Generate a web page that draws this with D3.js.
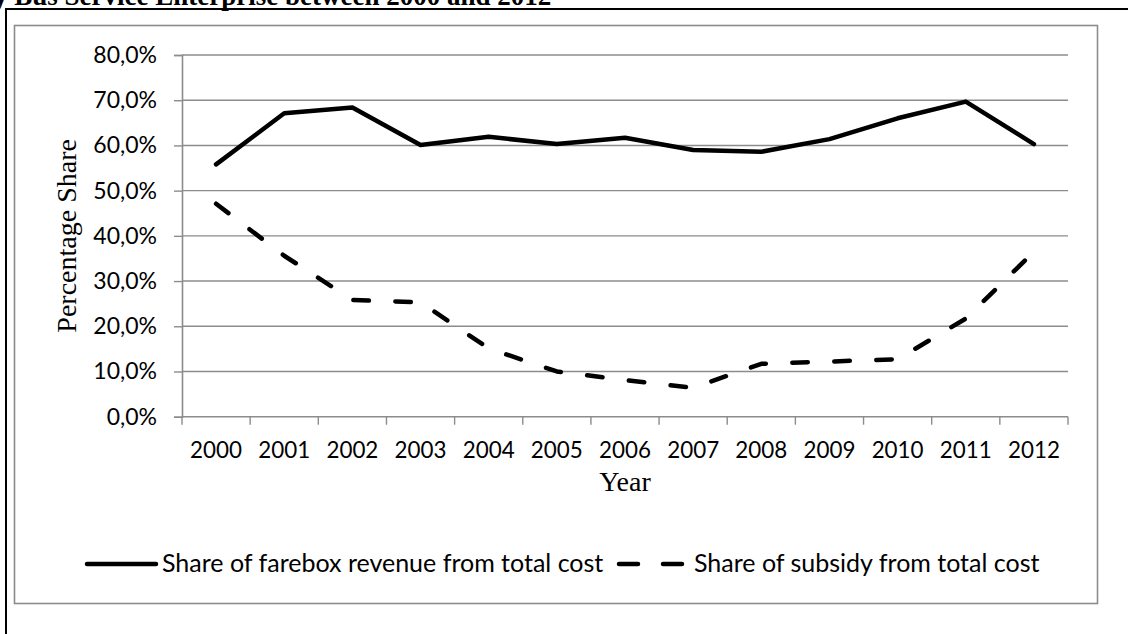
<!DOCTYPE html>
<html>
<head>
<meta charset="utf-8">
<script src="https://cdn.jsdelivr.net/npm/d3@7"></script>
<style>
  html, body { margin: 0; padding: 0; background: #fff; }
  svg { display: block; }
</style>
</head>
<body>
<svg id="chart" width="1128" height="634"></svg>
<script>
// Yearly categories and the two cost-share series (percent of total cost)
const years = ["2000","2001","2002","2003","2004","2005","2006","2007","2008","2009","2010","2011","2012"];
const fareboxShare = [55.8, 67.1, 68.4, 60.1, 61.9, 60.3, 61.7, 59.0, 58.6, 61.4, 66.0, 69.7, 60.3];
const subsidyShare = [47.1, 35.6, 25.8, 25.3, 15.1, 10.0, 8.1, 6.4, 11.7, 12.2, 12.7, 21.7, 36.5];
const yTicks = [0, 10, 20, 30, 40, 50, 60, 70, 80];
const seriesNames = ["Share of farebox revenue from total cost", "Share of subsidy from total cost"];
const titleText = "y Bus Service Enterprise between 2000 and 2012";

const svg = d3.select("#chart");
const grey = "#8c8c8c";
const sansFont = "Lato, 'Open Sans', sans-serif";
const serifFont = "'Liberation Serif', 'Times New Roman', serif";

// comma decimal separator, as in the source document
const locale = d3.formatLocale({ decimal: ",", thousands: ".", grouping: [3], currency: ["", ""] });
const fmt = v => locale.format(".1f")(v) + "%";

// page background
svg.append("rect").attr("width", 1128).attr("height", 634).attr("fill", "#fff");

// caption line of the figure, running off the top of the page
svg.append("text")
  .attr("x", -6).attr("y", 5)
  .attr("font-family", serifFont).attr("font-weight", "bold").attr("font-size", 27)
  .attr("fill", "#000")
  .text(titleText);

// table cell border around the figure
svg.append("line").attr("x1", 5).attr("x2", 1128).attr("y1", 9).attr("y2", 9)
  .attr("stroke", "#000").attr("stroke-width", 2);
svg.append("line").attr("x1", 6).attr("x2", 6).attr("y1", 9).attr("y2", 634)
  .attr("stroke", "#000").attr("stroke-width", 2);

// chart area frame
svg.append("rect")
  .attr("x", 14.5).attr("y", 25.5).attr("width", 1083).attr("height", 578)
  .attr("fill", "#fff").attr("stroke", grey).attr("stroke-width", 1.6);

// scales
const plotLeft = 182, plotRight = 1068, plotTop = 55, plotBottom = 416.7;
const x = d3.scaleBand().domain(years).range([plotLeft, plotRight]).paddingInner(0).paddingOuter(0);
const y = d3.scaleLinear().domain([0, 80]).range([plotBottom, plotTop]);
const cx = yr => x(yr) + x.bandwidth() / 2;

// horizontal gridlines
svg.append("g").selectAll("line").data(yTicks.filter(t => t > 0)).join("line")
  .attr("x1", plotLeft).attr("x2", plotRight)
  .attr("y1", d => y(d)).attr("y2", d => y(d))
  .attr("stroke", grey).attr("stroke-width", 1.4);

// y axis
const yAxis = svg.append("g").attr("transform", `translate(${plotLeft},0)`)
  .call(d3.axisLeft(y).tickValues(yTicks).tickSize(8).tickPadding(17).tickFormat(fmt));
yAxis.select(".domain").attr("stroke", grey).attr("stroke-width", 1.6);
yAxis.selectAll(".tick line").attr("stroke", grey).attr("stroke-width", 1.4);
yAxis.selectAll(".tick text")
  .attr("font-family", sansFont).attr("font-size", 23).attr("fill", "#000");

// x axis line and category boundary ticks
svg.append("line").attr("x1", plotLeft).attr("x2", plotRight)
  .attr("y1", plotBottom).attr("y2", plotBottom)
  .attr("stroke", grey).attr("stroke-width", 1.6);
const boundaries = years.map(yr => x(yr)).concat([plotRight]);
svg.append("g").selectAll("line").data(boundaries).join("line")
  .attr("x1", d => d).attr("x2", d => d)
  .attr("y1", plotBottom).attr("y2", plotBottom + 8)
  .attr("stroke", grey).attr("stroke-width", 1.4);
svg.append("g").selectAll("text").data(years).join("text")
  .attr("x", d => cx(d)).attr("y", 458)
  .attr("text-anchor", "middle")
  .attr("font-family", sansFont).attr("font-size", 22.4).attr("fill", "#000")
  .text(d => d);

// axis titles
svg.append("text")
  .attr("x", (plotLeft + plotRight) / 2).attr("y", 491)
  .attr("text-anchor", "middle")
  .attr("font-family", serifFont).attr("font-size", 28).attr("fill", "#000")
  .text("Year");
svg.append("text")
  .attr("transform", `translate(76,${(plotTop + plotBottom) / 2}) rotate(-90)`)
  .attr("text-anchor", "middle")
  .attr("font-family", serifFont).attr("font-size", 28).attr("fill", "#000")
  .text("Percentage Share");

// series lines
const line = d3.line().x(d => cx(d.year)).y(d => y(d.value));
const fareData = years.map((yr, i) => ({ year: yr, value: fareboxShare[i] }));
const subsData = years.map((yr, i) => ({ year: yr, value: subsidyShare[i] }));

svg.append("path").datum(fareData).attr("d", line)
  .attr("fill", "none").attr("stroke", "#000").attr("stroke-width", 4.5)
  .attr("stroke-linejoin", "round").attr("stroke-linecap", "round");
svg.append("path").datum(subsData).attr("d", line)
  .attr("fill", "none").attr("stroke", "#000").attr("stroke-width", 4.5)
  .attr("stroke-dasharray", "15.5,26.5")
  .attr("stroke-linejoin", "round").attr("stroke-linecap", "round");

// legend
const legendY = 564;
const lg = svg.append("g");
lg.append("line").attr("x1", 87).attr("x2", 156).attr("y1", legendY).attr("y2", legendY)
  .attr("stroke", "#000").attr("stroke-width", 4.5).attr("stroke-linecap", "round");
lg.append("text").attr("x", 162).attr("y", legendY + 8)
  .attr("font-family", sansFont).attr("font-size", 25).attr("fill", "#000")
  .text(seriesNames[0]);
lg.append("line").attr("x1", 619).attr("x2", 682).attr("y1", legendY).attr("y2", legendY)
  .attr("stroke", "#000").attr("stroke-width", 4.5).attr("stroke-linecap", "round")
  .attr("stroke-dasharray", "19,25");
lg.append("text").attr("x", 694).attr("y", legendY + 8)
  .attr("font-family", sansFont).attr("font-size", 25).attr("fill", "#000")
  .text(seriesNames[1]);
</script>
</body>
</html>
